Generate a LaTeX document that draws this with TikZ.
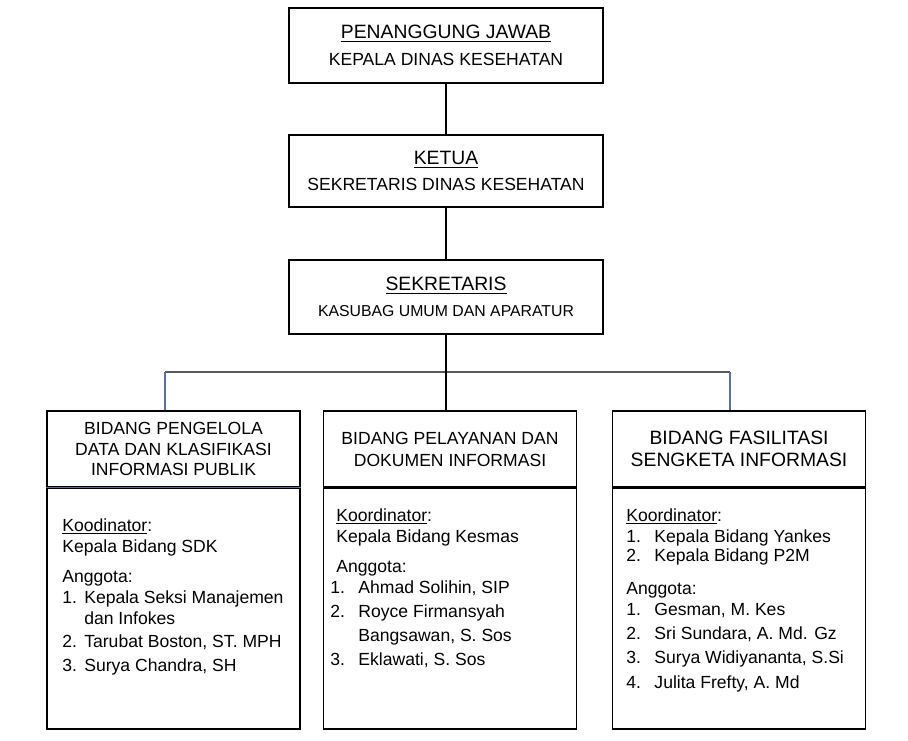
\documentclass[tikz,border=0pt]{standalone}
\usepackage{fontspec}
\setmainfont{Liberation Sans}
\usetikzlibrary{positioning}
\definecolor{linkblue}{HTML}{5A7298}
\definecolor{linkgrey}{HTML}{595959}
\newcommand{\numitem}[2][16pt]{\makebox[#1][l]{#2}}
\begin{document}
\begin{tikzpicture}[x=0.02cm, y=-0.02cm,
        topbox/.style={draw, line width=1.6pt, minimum width=6.28cm, align=center, inner sep=0pt},
        headbox/.style={draw, line width=0.6pt, minimum width=5.06cm, minimum height=1.52cm, align=center, inner sep=0pt},
        bodybox/.style={draw, line width=0.6pt, minimum width=5.06cm, minimum height=4.82cm, anchor=north},
        listtext/.style={anchor=north west, inner sep=0pt, align=left, font=\fontsize{10}{12}\selectfont}]
        \useasboundingbox (0,0) rectangle (908,740);
        % top boxes
        \node[topbox, minimum height=1.5cm] (pj) at (446,45.5)
          {{\fontsize{11}{13.5}\selectfont\underline{PENANGGUNG JAWAB}}\\[3pt]
           {\fontsize{10}{13}\selectfont KEPALA DINAS KESEHATAN}};
        \node[topbox, minimum height=1.44cm] (ketua) at (446,171)
          {{\fontsize{11}{13.5}\selectfont\underline{KETUA}}\\[3pt]
           {\fontsize{10}{13}\selectfont SEKRETARIS DINAS KESEHATAN}};
        \node[topbox, minimum height=1.48cm] (sekr) at (446,297)
          {{\fontsize{11}{13.5}\selectfont\underline{SEKRETARIS}}\\[3pt]
           {\fontsize{9}{13}\selectfont KASUBAG UMUM DAN APARATUR}};
        % bidang heads and bodies
        \node[headbox, font=\fontsize{10}{11.5}\selectfont] (headA) at (173.5,449)
          {BIDANG PENGELOLA\\DATA DAN KLASIFIKASI\\INFORMASI PUBLIK};
        \node[headbox, font=\fontsize{10}{12.5}\selectfont] (headB) at (450,449)
          {BIDANG PELAYANAN DAN\\DOKUMEN INFORMASI};
        \node[headbox, font=\fontsize{11}{12.5}\selectfont] (headC) at (739,449)
          {BIDANG FASILITASI\\SENGKETA INFORMASI};
        \node[bodybox] (bodyA) at (headA.south) {};
        \node[bodybox] (bodyB) at (headB.south) {};
        \node[bodybox] (bodyC) at (headC.south) {};
        \draw[linkblue, line width=0.6pt] (bodyA.north west) -- (bodyA.north east);
        % connectors
        \draw[line width=0.6pt] (pj) -- (ketua);
        \draw[line width=0.6pt] (ketua) -- (sekr);
        \coordinate (jL) at (165,372);
        \coordinate (jR) at (730,372);
        \draw[linkgrey, line width=0.6pt] (jL) -- (jR);
        \draw[line width=0.6pt] (sekr.south) -- (sekr.south |- headB.north);
        \draw[linkblue, line width=0.6pt] (jL) -- (jL |- headA.north);
        \draw[linkblue, line width=0.6pt] (jR) -- (jR |- headC.north);
        % member lists
        \node[listtext] (listA) at (62,518)
          {\underline{Koodinator}:\\
           Kepala Bidang SDK\\[5pt]
           Anggota:\\
           \numitem[12.5pt]{1.}Kepala Seksi Manajemen\\
           \hspace*{12.5pt}dan Infokes\\[1.5pt]
           \numitem[12.5pt]{2.}Tarubat Boston, ST. MPH\\[1.5pt]
           \numitem[12.5pt]{3.}Surya Chandra, SH};
        \node[listtext] (listB) at (330,508)
          {\hspace*{3.4pt}\underline{Koordinator}:\\
           \hspace*{3.4pt}Kepala Bidang Kesmas\\[5pt]
           \hspace*{3.4pt}Anggota:\\
           \numitem{1.}Ahmad Solihin, SIP\\[2pt]
           \numitem{2.}Royce Firmansyah\\[1.5pt]
           \hspace*{16pt}Bangsawan, S. Sos\\[1.5pt]
           \numitem{3.}Eklawati, S. Sos};
        \node[listtext] (listC) at (626,508)
          {\underline{Koordinator}:\\
           \numitem{1.}Kepala Bidang Yankes\\[-1pt]
           \numitem{2.}Kepala Bidang P2M\\[7pt]
           Anggota:\\
           \numitem{1.}Gesman, M. Kes\\[1.5pt]
           \numitem{2.}Sri Sundara, A. Md. Gz\\[1.5pt]
           \numitem{3.}Surya Widiyananta, S.Si\\[2pt]
           \numitem{4.}Julita Frefty, A. Md};
      \end{tikzpicture}
\end{document}
